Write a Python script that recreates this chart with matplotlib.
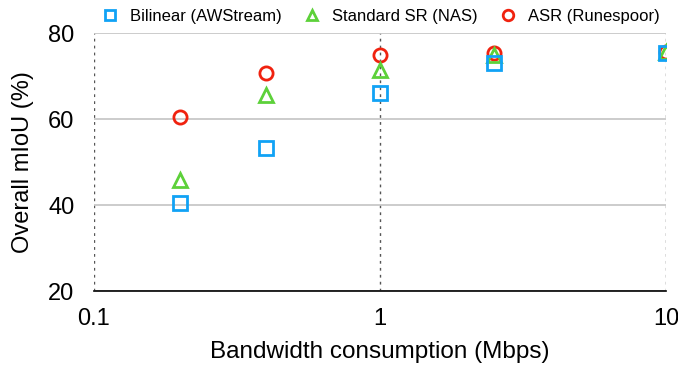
import matplotlib
matplotlib.use('Agg')
import matplotlib.pyplot as plt
import matplotlib.ticker as mt

plt.rcParams['font.family'] = ['Liberation Sans', 'DejaVu Sans']

bandwidth = [0.2, 0.4, 1, 2.5, 10]
bilinear = [40.5, 53.3, 66.0, 73.0, 75.4]
standard_sr = [45.8, 65.6, 71.4, 74.8, 75.6]
asr = [60.5, 70.8, 75.0, 75.3, 75.5]

fig = plt.figure(figsize=(6.78, 3.70), dpi=100)
ax = fig.add_axes([94/678, 1-291/370, 572/678, 258/370])

ax.plot(bandwidth, asr, ls='none', marker='o', ms=9.5, mfc='none', mec='#f0220f', mew=2,
        label='ASR (Runespoor)', zorder=3)
ax.plot(bandwidth, standard_sr, ls='none', marker='^', ms=9.5, mfc='none', mec='#5dd13a', mew=2,
        label='Standard SR (NAS)', zorder=4)
ax.plot(bandwidth, bilinear, ls='none', marker='s', ms=9.5, mfc='none', mec='#11a2f5', mew=2,
        label='Bilinear (AWStream)', zorder=5)

ax.set_xscale('log')
ax.set_xlim(0.1, 10)
ax.set_ylim(20, 80)
ax.set_yticks([20, 40, 60, 80])
ax.set_xticks([0.1, 1, 10])
ax.xaxis.set_major_formatter(mt.FuncFormatter(lambda v, p: '%g' % v))
ax.xaxis.set_minor_locator(mt.NullLocator())
ax.tick_params(length=0, labelsize=17)
ax.tick_params(axis='y', pad=14)
ax.tick_params(axis='x', pad=12)

for s in ['top', 'left', 'right']:
    ax.spines[s].set_visible(False)
ax.spines['bottom'].set_color('black')
ax.spines['bottom'].set_linewidth(1.2)

ax.yaxis.grid(True, color='#c4c4c4', lw=1.2, ls='-')
ax.xaxis.grid(True, color='#555555', lw=1.0, ls=(0, (2, 3)))
ax.set_axisbelow(True)

ax.set_xlabel('Bandwidth consumption (Mbps)', fontsize=17.5, labelpad=8)
ax.set_ylabel('Overall mIoU (%)', fontsize=17, labelpad=10)

h, l = ax.get_legend_handles_labels()
ax.legend(h[::-1], l[::-1], ncol=3, loc='lower center', bbox_to_anchor=(0.5, 1.0),
          frameon=False, fontsize=12, handletextpad=0.6, columnspacing=1.2,
          handlelength=1.2, borderaxespad=0.15, markerscale=0.8)

fig.savefig('out.png', dpi=100)
